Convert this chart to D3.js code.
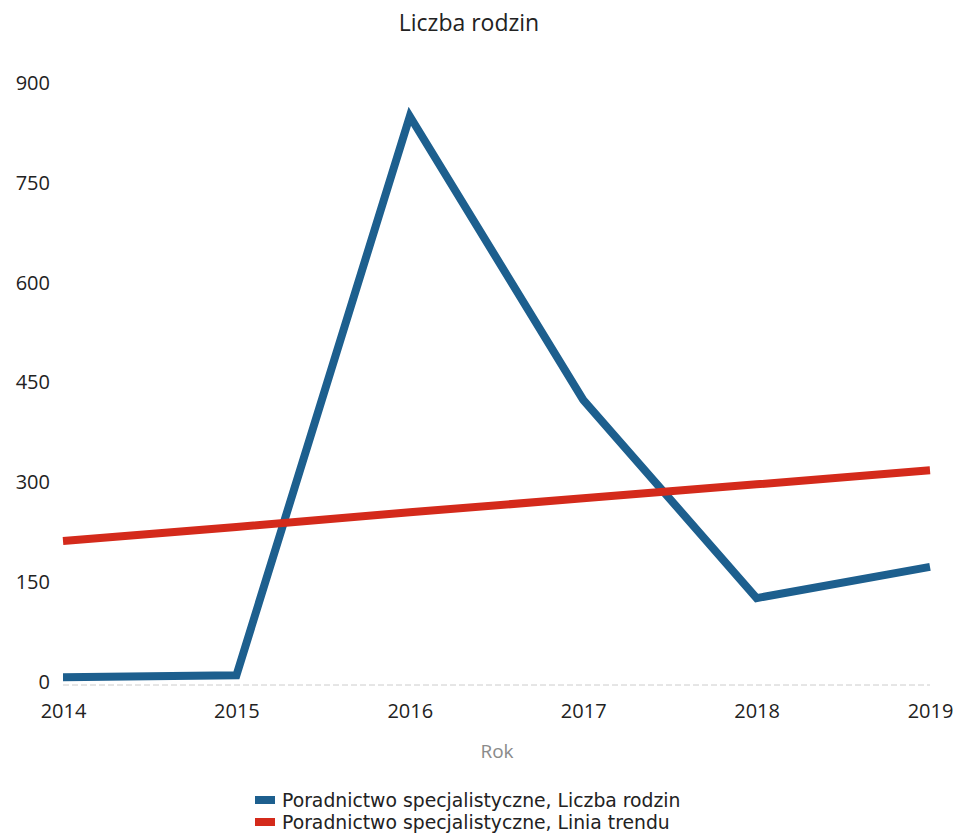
<!DOCTYPE html>
<html>
<head>
<meta charset="utf-8">
<script src="https://cdn.jsdelivr.net/npm/d3@7"></script>
<style>
  body { margin: 0; background: #fff; }
  text { font-family: "Open Sans", sans-serif; }
</style>
</head>
<body>
<div id="chart"></div>
<script>
var years = [2014, 2015, 2016, 2017, 2018, 2019];
var families = [7, 10, 850, 424, 126, 173];
var trend = [212, 233, 255, 276, 297, 318];
var yTicks = [0, 150, 300, 450, 600, 750, 900];
var seriesNames = [
    "Poradnictwo specjalistyczne, Liczba rodzin",
    "Poradnictwo specjalistyczne, Linia trendu"
];
var colors = ["#1d5f8e", "#d42a1b"];

function lineChart() {
    var width = 956;
    var height = 834;

    var svg = d3.select('#chart')
      .append('svg')
      .attr('width', width)
      .attr('height', height);

    var x = d3.scalePoint()
      .domain(years)
      .range([63, 930]);

    var y = d3.scaleLinear()
      .domain([0, 900])
      .range([682, 83]);

    // title
    svg.append('text')
      .attr('x', 469)
      .attr('y', 31)
      .attr('text-anchor', 'middle')
      .attr('font-size', 23)
      .attr('fill', '#222')
      .text('Liczba rodzin');

    // y labels
    var yAxis = d3.axisLeft(y).tickValues(yTicks).tickSize(0).tickPadding(0);
    var gy = svg.append('g')
      .attr('transform', 'translate(50,0)')
      .call(yAxis);
    gy.select('.domain').remove();
    gy.selectAll('text')
      .attr('font-size', 20)
      .attr('fill', '#222')
      .style('font-family', '"Open Sans", sans-serif');

    // baseline
    svg.append('line')
      .attr('x1', x(years[0]))
      .attr('x2', x(years[years.length - 1]))
      .attr('y1', y(0) + 3)
      .attr('y2', y(0) + 3)
      .attr('stroke', '#ccc')
      .attr('stroke-width', 1)
      .attr('stroke-dasharray', '6,3');

    // x labels
    var xAxis = d3.axisBottom(x).tickSize(0).tickPadding(0);
    var gx = svg.append('g')
      .attr('transform', 'translate(0,' + (y(0) + 22) + ')')
      .call(xAxis);
    gx.select('.domain').remove();
    gx.selectAll('text')
      .attr('font-size', 20)
      .attr('fill', '#222')
      .style('font-family', '"Open Sans", sans-serif');

    svg.append('text')
      .attr('x', 497)
      .attr('y', 758)
      .attr('text-anchor', 'middle')
      .attr('font-size', 19)
      .attr('fill', '#8a8a8a')
      .text('Rok');

    var line = d3.line()
      .x(function(d, i) { return x(years[i]); })
      .y(function(d) { return y(d); });

    [families, trend].forEach(function(s, k) {
      svg.append('path')
        .datum(s)
        .attr('d', line)
        .attr('fill', 'none')
        .attr('stroke', colors[k])
        .attr('stroke-width', 8)
        .attr('stroke-linejoin', 'miter');
    });

    // legend
    var legend = svg.append('g')
      .attr('transform', 'translate(255,800)');
    seriesNames.forEach(function(name, i) {
      var g = legend.append('g').attr('transform', 'translate(0,' + (i * 22) + ')');
      g.append('rect')
        .attr('x', 0)
        .attr('y', -4)
        .attr('width', 20)
        .attr('height', 8)
        .attr('fill', colors[i]);
      g.append('text')
        .attr('x', 27)
        .attr('y', 7)
        .attr('font-size', 18.8)
        .style('font-family', '"DejaVu Sans", sans-serif')
        .attr('fill', '#222')
        .text(name);
    });
}

lineChart();
</script>
</body>
</html>
